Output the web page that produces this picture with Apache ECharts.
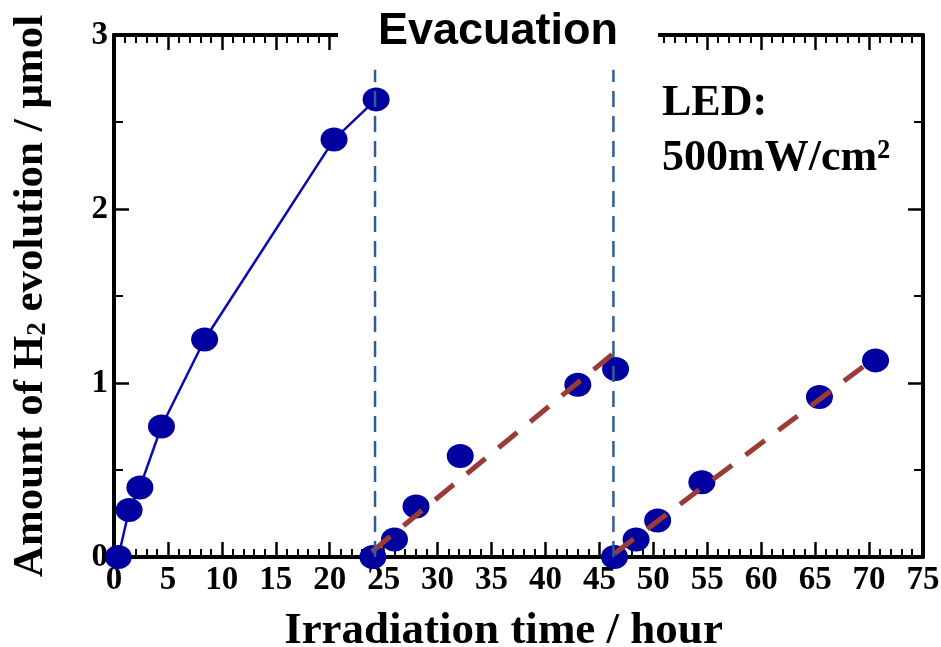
<!DOCTYPE html>
<html>
<head>
<meta charset="utf-8">
<script src="https://cdn.jsdelivr.net/npm/echarts@6/dist/echarts.min.js"></script>
<style>
  html, body { margin: 0; padding: 0; background: #fff; }
  #chart { width: 941px; height: 647px; }
</style>
</head>
<body>
<div id="chart"></div>
<script>
// Run 1: fresh catalyst, irradiation from t = 0
const hours1 = [0.4, 1.4, 2.4, 4.4, 8.4, 20.4, 24.3];
const h2Run1 = [0, 0.27, 0.40, 0.75, 1.25, 2.40, 2.63];
// Run 2: after the first evacuation
const hours2 = [24.0, 26.0, 28.0, 32.1, 43.0, 46.5];
const h2Run2 = [0, 0.10, 0.29, 0.58, 0.99, 1.08];
// Run 3: after the second evacuation
const hours3 = [46.4, 48.4, 50.4, 54.5, 65.4, 70.6];
const h2Run3 = [0, 0.10, 0.21, 0.43, 0.92, 1.13];
// Linear fits through runs 2 and 3 (end points)
const fit2Hours = [23.9, 46.3];
const fit2H2 = [0.03, 1.17];
const fit3Hours = [46.4, 69.9];
const fit3H2 = [0.02, 1.115];
// Evacuation times and the height of the marker lines
const evacHours = [24.2, 46.3];
const evacTop = 2.8;
// Axis settings
const xTicks = { min: 0, max: 75, interval: 5 };
const yTicks = { min: 0, max: 3, interval: 1 };

const serif = '"Liberation Serif", "Times New Roman", serif';
const sans = '"Liberation Sans", Arial, sans-serif';
const markerColor = '#0000A0';
const markerSize = [27, 24];

const zip = (xs, ys) => xs.map((x, i) => [x, ys[i]]);

function frameAxis(base, showLabels) {
  return Object.assign({
    type: 'value',
    axisLine: { show: true, onZero: false, lineStyle: { color: '#000', width: 4 } },
    axisTick: { show: true, inside: true, length: 15, lineStyle: { color: '#000', width: 2.5 } },
    minorTick: { show: true, length: 8, lineStyle: { color: '#000', width: 2 } },
    splitLine: { show: false },
    axisLabel: showLabels
      ? { show: true, color: '#000', fontFamily: serif, fontWeight: 'bold', fontSize: 33 }
      : { show: false }
  }, base);
}

const chart = echarts.init(document.getElementById('chart'));

const series = [
  {
    type: 'line',
    data: zip(hours1, h2Run1),
    symbol: 'circle',
    symbolSize: markerSize,
    itemStyle: { color: markerColor, opacity: 1 },
    lineStyle: { color: '#0A0AB4', width: 2.5 },
    z: 3
  },
  {
    type: 'scatter',
    data: zip(hours2, h2Run2),
    symbol: 'circle',
    symbolSize: markerSize,
    itemStyle: { color: markerColor, opacity: 1 },
    z: 3
  },
  {
    type: 'scatter',
    data: zip(hours3, h2Run3),
    symbol: 'circle',
    symbolSize: markerSize,
    itemStyle: { color: markerColor, opacity: 1 },
    z: 3
  }
];

[[fit2Hours, fit2H2], [fit3Hours, fit3H2]].forEach(([xs, ys]) => {
  series.push({
    type: 'line',
    data: zip(xs, ys),
    symbol: 'none',
    lineStyle: { color: '#9C3B36', width: 5, type: [24, 17] },
    z: 5,
    silent: true
  });
});

evacHours.forEach(h => {
  series.push({
    type: 'line',
    data: [[h, 0], [h, evacTop]],
    symbol: 'none',
    lineStyle: { color: '#2F5E96', width: 2.5, type: [16, 9] },
    z: 6,
    silent: true
  });
});

chart.setOption({
  animation: false,
  backgroundColor: '#fff',
  title: {
    text: 'Evacuation',
    left: 338,
    top: 5,
    padding: [4, 40, 8, 40],
    backgroundColor: '#fff',
    textStyle: { fontFamily: sans, fontWeight: 'bold', fontSize: 45, color: '#000' },
    z: 10
  },
  grid: { left: 114, right: 18, top: 35, bottom: 90, containLabel: false, outerBoundsMode: 'none' },
  xAxis: [
    frameAxis({
      position: 'bottom',
      min: xTicks.min, max: xTicks.max, interval: xTicks.interval,
      minorTick: { show: true, splitNumber: 5, length: 8, lineStyle: { color: '#000', width: 2 } },
      axisLabel: { show: true, color: '#000', fontFamily: serif, fontWeight: 'bold', fontSize: 33, margin: 7 },
      name: 'Irradiation time / hour',
      nameLocation: 'middle',
      nameGap: 52,
      nameTextStyle: { fontFamily: serif, fontWeight: 'bold', fontSize: 45, color: '#000', padding: [0, 30, 0, 0] }
    }, true),
    frameAxis({
      position: 'top',
      min: xTicks.min, max: xTicks.max, interval: xTicks.interval,
      minorTick: { show: true, splitNumber: 5, length: 8, lineStyle: { color: '#000', width: 2 } }
    }, false)
  ],
  yAxis: [
    frameAxis({
      position: 'left',
      min: yTicks.min, max: yTicks.max, interval: yTicks.interval,
      minorTick: { show: true, splitNumber: 2, length: 9, lineStyle: { color: '#000', width: 2 } },
      axisLabel: { show: true, color: '#000', fontFamily: serif, fontWeight: 'bold', fontSize: 33, margin: 6 },
      name: 'Amount of H{sub|2} evolution / μmol',
      nameLocation: 'middle',
      nameGap: 62,
      nameTextStyle: {
        fontFamily: serif, fontWeight: 'bold', fontSize: 43, color: '#000',
        rich: {
          sub: { fontFamily: serif, fontWeight: 'bold', fontSize: 27, color: '#000', verticalAlign: 'bottom', lineHeight: 27 }
        }
      }
    }, true),
    frameAxis({
      position: 'right',
      min: yTicks.min, max: yTicks.max, interval: yTicks.interval,
      minorTick: { show: true, splitNumber: 2, length: 9, lineStyle: { color: '#000', width: 2 } }
    }, false)
  ],
  series: series,
  graphic: [
    {
      type: 'text', left: 662, top: 82, z: 20,
      style: { text: 'LED:', font: 'bold 44px ' + serif, fill: '#000' }
    },
    {
      type: 'text', left: 662, top: 137, z: 20,
      style: { text: '500mW/cm²', font: 'bold 44px ' + serif, fill: '#000' }
    }
  ]
});
</script>
</body>
</html>
